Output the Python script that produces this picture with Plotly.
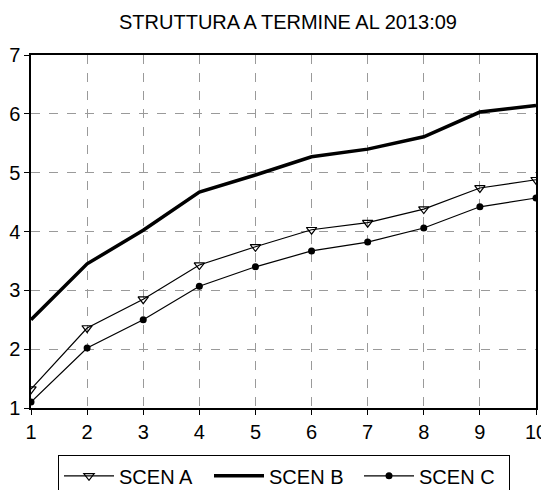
import plotly.graph_objects as go

maturities = [1, 2, 3, 4, 5, 6, 7, 8, 9, 10]
scen_a = [1.32, 2.36, 2.85, 3.43, 3.74, 4.03, 4.15, 4.38, 4.74, 4.88]
scen_b = [2.50, 3.45, 4.02, 4.67, 4.96, 5.27, 5.40, 5.61, 6.03, 6.14]
scen_c = [1.10, 2.02, 2.50, 3.07, 3.40, 3.67, 3.82, 4.06, 4.42, 4.57]
y_ticks = [1, 2, 3, 4, 5, 6, 7]
x_ticks = maturities

FONT = "Liberation Sans, Arial, sans-serif"

# The page body keeps its default 8px margin, so the figure is 8px smaller
W, H = 541, 482

fig = go.Figure()
fig.add_trace(go.Scatter(
    x=maturities, y=scen_a, name="SCEN A", mode="lines+markers",
    line=dict(color="black", width=1.2),
    marker=dict(symbol="triangle-down-open", size=9, color="black", line=dict(width=1.2)),
))
fig.add_trace(go.Scatter(
    x=maturities, y=scen_b, name="SCEN B", mode="lines",
    line=dict(color="black", width=3.5),
))
fig.add_trace(go.Scatter(
    x=maturities, y=scen_c, name="SCEN C", mode="lines+markers",
    line=dict(color="black", width=1.2),
    marker=dict(symbol="circle", size=7, color="black"),
))

axis_common = dict(
    showline=True, linecolor="black", linewidth=1.5, mirror=True,
    ticks="outside", ticklen=5, tickcolor="black",
    showgrid=True, gridcolor="#9a9a9a", griddash="dash", gridwidth=1,
    zeroline=False, automargin=False,
    tickfont=dict(family=FONT, size=20, color="black"),
)

fig.update_xaxes(range=[1, 10], tickvals=x_ticks, **axis_common)
fig.update_yaxes(range=[1, 7], tickvals=y_ticks, **axis_common)

fig.update_layout(
    width=W, height=H,
    margin=dict(l=23, r=13, t=47, b=82, autoexpand=False),
    paper_bgcolor="white", plot_bgcolor="white",
    font=dict(family=FONT, color="black"),
    title=dict(text="STRUTTURA A TERMINE AL 2013:09", x=280 / W, xanchor="center",
               y=1 - 14 / H, yanchor="middle", yref="container",
               font=dict(family=FONT, size=20, color="black")),
    legend=dict(orientation="h", x=0.501, xanchor="center", y=-0.134, yanchor="top",
                bordercolor="black", borderwidth=1, bgcolor="white",
                font=dict(family=FONT, size=20, color="black"),
                itemwidth=50, entrywidth=85, entrywidthmode="pixels",
                tracegroupgap=0),
    showlegend=True,
)

fig.write_html("out.html")
